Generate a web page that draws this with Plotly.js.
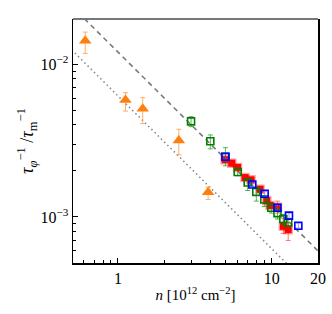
<!DOCTYPE html>
<html>
<head>
<meta charset="utf-8">
<script src="https://cdn.plot.ly/plotly-3.0.1.min.js"></script>
<style>html,body{margin:0;padding:0;background:#fff;}#chart{width:332px;height:314px;}</style>
</head>
<body>
<div id="chart"></div>
<script>
// Fit lines (end points)
const fitX = [0.5, 20];
const dashedY = [0.0240, 0.00060];
const dottedY = [0.0124, 0.00031];

// Orange triangles
const orangeX = [0.613, 1.12, 1.45, 2.49, 3.86];
const orangeY = [0.0142, 0.00582, 0.00511, 0.00316, 0.00145];
const orangeHi = [0.0162, 0.0065, 0.00603, 0.00375, 0.00157];
const orangeLo = [0.01175, 0.00493, 0.00408, 0.00255, 0.0013];

// Green open squares
const greenX = [2.99, 3.99, 5.0, 6.01, 6.98, 7.94, 8.95, 9.94, 10.9, 11.9, 12.8];
const greenY = [0.00422, 0.00313, 0.00248, 0.00197, 0.00168, 0.00146, 0.0013, 0.00115, 0.00106, 0.00097, 0.00092];
const greenHi = [0.00453, 0.00344, 0.00284, 0.00209, 0.00177, 0.00157, 0.00138, 0.00123, 0.00112, 0.00104, 0.00097];
const greenLo = [0.0039, 0.00279, 0.00216, 0.00186, 0.00149, 0.00127, 0.00117, 0.00106, 0.00097, 0.00089, 0.00087];

// Red filled squares
const redX = [4.98, 5.5, 6.0, 6.71, 7.34, 8.4, 9.29, 9.75, 10.9, 11.9, 12.8];
const redY = [0.00237, 0.00225, 0.00211, 0.00181, 0.00175, 0.00152, 0.00128, 0.00119, 0.00116, 0.000869, 0.000826];
const redHi = [0.00245, 0.00232, 0.00218, 0.00187, 0.00181, 0.00158, 0.00133, 0.00124, 0.00127, 0.00098, 0.00092];
const redLo = [0.00229, 0.00218, 0.00204, 0.00175, 0.00169, 0.00146, 0.00123, 0.00114, 0.00106, 0.00078, 0.000702];

// Blue open squares
const blueX = [5.0, 7.48, 9.0, 10.9, 12.95, 14.9];
const blueY = [0.00248, 0.00163, 0.00142, 0.00115, 0.00102, 0.000877];
const blueHi = [0.00256, 0.00168, 0.00147, 0.00119, 0.00106, 0.00091];
const blueLo = [0.0024, 0.00158, 0.00137, 0.00111, 0.00098, 0.000845];

const xTickVals = [1, 10, 20];
const xTickText = ['1', '10', '20'];
const xMinor = [0.6, 0.7, 0.8, 0.9, 2, 3, 4, 5, 6, 7, 8, 9];
const yTickVals = [0.001, 0.01];
const yTickText = ['10<sup>−3</sup>', '10<sup>−2</sup>'];
const yMinor = [0.0005, 0.0006, 0.0007, 0.0008, 0.0009, 0.002, 0.003, 0.004, 0.005, 0.006, 0.007, 0.008, 0.009];

function errs(y, hi, lo, color) {
  return {type: 'data', symmetric: false,
    array: y.map((v, i) => hi[i] - v),
    arrayminus: y.map((v, i) => v - lo[i]),
    color: color, thickness: 1, width: 2.5};
}

const traces = [
  {x: fitX, y: dashedY, mode: 'lines', line: {color: '#7a7a7a', width: 1.6, dash: '5px,4px'}, hoverinfo: 'skip'},
  {x: fitX, y: dottedY, mode: 'lines', line: {color: '#8a8a8a', width: 1.6, dash: '1.5px,3px'}, hoverinfo: 'skip'},
  {x: orangeX, y: orangeY, mode: 'markers',
   marker: {symbol: 'triangle-up', size: 11, color: '#ff7f0e', line: {width: 0}},
   error_y: errs(orangeY, orangeHi, orangeLo, 'rgba(255,160,80,0.85)')},
  {x: redX, y: redY, mode: 'markers',
   marker: {symbol: 'square', size: 7, color: '#ff0000', line: {color: 'rgba(255,0,0,0.35)', width: 2.5}},
   error_y: errs(redY, redHi, redLo, 'rgba(255,80,80,0.75)')},
  {x: greenX, y: greenY, mode: 'markers',
   marker: {symbol: 'square-open', size: 7, color: '#007f00', line: {width: 1.6}},
   error_y: errs(greenY, greenHi, greenLo, 'rgba(0,140,0,0.65)')},
  {x: blueX, y: blueY, mode: 'markers',
   marker: {symbol: 'square-open', size: 7, color: '#0000ff', line: {width: 1.6}},
   error_y: errs(blueY, blueHi, blueLo, 'rgba(80,80,255,0.55)')}
];

const fam = '"Liberation Serif", "DejaVu Serif", serif';
const tickFont = {family: fam, size: 16, color: '#000'};
const xTitleFont = {family: fam, size: 15, color: '#000'};
const yTitleFont = {family: fam, size: 18, color: '#000'};

const layout = {
  width: 332, height: 314,
  margin: {l: 73, r: 14, t: 19, b: 51},
  paper_bgcolor: '#fff', plot_bgcolor: '#fff',
  showlegend: false,
  font: tickFont,
  xaxis: {
    type: 'log', range: [-0.292, 1.301],
    tickvals: xTickVals, ticktext: xTickText,
    ticks: 'inside', ticklen: 5, tickwidth: 1, tickcolor: '#000',
    minor: {tickvals: xMinor, ticks: 'inside', ticklen: 3, tickwidth: 1, tickcolor: '#000', showgrid: false},
    showline: true, linecolor: '#000', linewidth: 1.5, mirror: false,
    showgrid: false, zeroline: false,
    tickfont: tickFont,
    title: {text: '<i>n</i> [10<sup>12</sup> cm<sup>−2</sup>]', font: xTitleFont, standoff: 4}
  },
  yaxis: {
    type: 'log', range: [-3.301, -1.705],
    tickvals: yTickVals, ticktext: yTickText,
    ticks: 'inside', ticklen: 5, tickwidth: 1, tickcolor: '#000',
    minor: {tickvals: yMinor, ticks: 'inside', ticklen: 3, tickwidth: 1, tickcolor: '#000', showgrid: false},
    showline: true, linecolor: '#000', linewidth: 1.5, mirror: true,
    showgrid: false, zeroline: false,
    tickfont: tickFont,
    title: {text: '<i>τ</i><sub><i>φ</i></sub><sup>−1</sup> /<i>τ</i><sub>m</sub><sup>−1</sup>', font: yTitleFont, standoff: 2}
  },
  shapes: [
    {type: 'line', xref: 'paper', yref: 'paper', x0: 0, x1: 1, y0: 1, y1: 1,
     line: {color: '#777', width: 2}}
  ]
};

Plotly.newPlot('chart', traces, layout, {staticPlot: true, displayModeBar: false});
</script>
</body>
</html>
